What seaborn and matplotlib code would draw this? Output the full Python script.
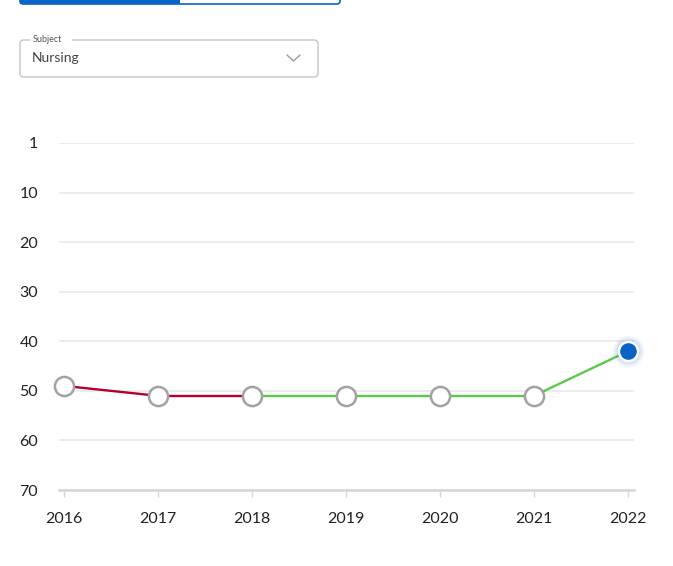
import pandas as pd
import matplotlib.pyplot as plt
import seaborn as sns
from matplotlib.patches import FancyBboxPatch, Rectangle
from matplotlib.lines import Line2D

# Data
years = [2016, 2017, 2018, 2019, 2020, 2021, 2022]
ranks = [49, 51, 51, 51, 51, 51, 42]
segment_colors = ['#b3002d', '#b3002d', '#5cc94c', '#5cc94c', '#5cc94c', '#5cc94c']
y_ticks = [0, 10, 20, 30, 40, 50, 60, 70]
y_labels = ['1', '10', '20', '30', '40', '50', '60', '70']

sns.set_theme(style='white')
plt.rcParams['font.family'] = ['Lato', 'DejaVu Sans']

W, H = 673, 566
fig = plt.figure(figsize=(W / 100, H / 100), dpi=100)
ax = fig.add_axes([59 / W, (H - 490) / H, 575 / W, 347 / H])


def fx(px):
    return px / W


def fy(py):
    return (H - py) / H


# line segments, colored by trend
rows = []
for i, c in enumerate(segment_colors):
    for j in (i, i + 1):
        rows.append({'year': years[j], 'rank': ranks[j], 'seg': i, 'color': c})
seg_df = pd.DataFrame(rows)
for seg, g in seg_df.groupby('seg'):
    sns.lineplot(data=g, x='year', y='rank', color=g['color'].iloc[0],
                 linewidth=1.7, ax=ax, zorder=3)

df = pd.DataFrame({'year': years, 'rank': ranks})
past = df.iloc[:-1]
last = df.iloc[-1:]

sns.scatterplot(data=past, x='year', y='rank', s=190, color='white',
                edgecolor='#a2a2a2', linewidth=1.8, ax=ax, zorder=4, clip_on=False)
# glow around current year
for s, a in [(520, 0.05), (400, 0.07), (300, 0.1)]:
    sns.scatterplot(data=last, x='year', y='rank', s=s, color='#0b63c5',
                    alpha=a, linewidth=0, ax=ax, zorder=4, clip_on=False)
sns.scatterplot(data=last, x='year', y='rank', s=190, color='#0b63c5',
                edgecolor='white', linewidth=1.8, ax=ax, zorder=5, clip_on=False)

ax.set_xlim(years[0] - 0.053, years[-1] + 0.064)
ax.set_ylim(70, 0)
ax.set_yticks(y_ticks)
ax.set_yticklabels(y_labels)
ax.set_xticks(years)
ax.set_xticklabels([str(y) for y in years])
ax.set_xlabel('')
ax.set_ylabel('')
ax.grid(axis='y', color='#ececec', linewidth=1.4)
ax.grid(axis='x', visible=False)
for side in ['top', 'right', 'left']:
    ax.spines[side].set_visible(False)
ax.spines['bottom'].set_color('#d6d6d6')
ax.spines['bottom'].set_linewidth(1.8)
ax.tick_params(axis='y', length=0, pad=15, labelsize=11.5, labelcolor='#222222')
ax.tick_params(axis='x', length=5, width=1, color='#d6d6d6', pad=11,
               labelsize=11.5, labelcolor='#222222', bottom=True)

# top tab bar
fig.add_artist(FancyBboxPatch((fx(20), fy(4)), fx(320) - fx(0), fy(-8) - fy(4),
                              boxstyle='round,pad=0,rounding_size=0.005',
                              facecolor='white', edgecolor='#0b63c5', linewidth=1.2,
                              transform=fig.transFigure))
fig.add_artist(Rectangle((fx(20), fy(4)), fx(160), fy(-8) - fy(4),
                         facecolor='#0b63c5', edgecolor='none',
                         transform=fig.transFigure))

# subject dropdown
fig.add_artist(FancyBboxPatch((fx(20), fy(77)), fx(298), fy(40) - fy(77),
                              boxstyle='round,pad=0,rounding_size=0.006',
                              facecolor='white', edgecolor='#c4c4c4', linewidth=1,
                              transform=fig.transFigure))
fig.add_artist(Rectangle((fx(30), fy(42)), fx(42), fy(38) - fy(42),
                         facecolor='white', edgecolor='none',
                         transform=fig.transFigure))
fig.text(fx(33), fy(40), 'Subject', fontsize=6.5, color='#555555', va='center')
fig.text(fx(32), fy(58), 'Nursing', fontsize=10, color='#444444', va='center')
fig.add_artist(Line2D([fx(287), fx(293.5), fx(300)], [fy(55), fy(61), fy(55)],
                      color='#999999', linewidth=1, transform=fig.transFigure))

fig.savefig('out.png', dpi=100, facecolor='white')
